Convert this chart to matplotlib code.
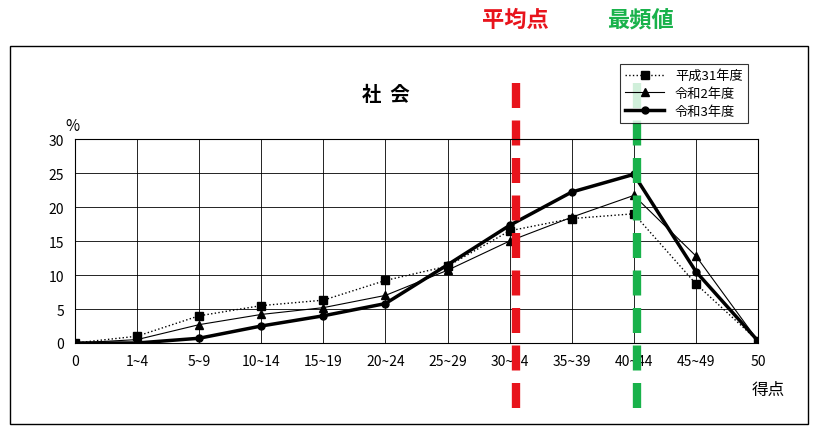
import matplotlib.pyplot as plt
from matplotlib.patches import Rectangle
from matplotlib.lines import Line2D

plt.rcParams['font.family'] = ['Noto Sans CJK JP', 'DejaVu Sans']

categories = ['0', '1~4', '5~9', '10~14', '15~19', '20~24', '25~29',
              '30~34', '35~39', '40~44', '45~49', '50']
h31 = [0, 1.0, 4.0, 5.5, 6.3, 9.2, 11.3, 16.5, 18.3, 19.0, 8.7, 0.3]
r2 = [0, 0.5, 2.7, 4.2, 5.2, 7.0, 10.7, 15.0, 18.5, 21.7, 12.8, 0.3]
r3 = [0, 0, 0.7, 2.5, 4.0, 5.8, 11.5, 17.3, 22.2, 24.8, 10.5, 0.3]
mean_pos = 7.1
mode_pos = 9.05

fig = plt.figure(figsize=(8.24, 4.35), dpi=100)
fig.patches.append(Rectangle((10 / 824, 1 - 425 / 435), 798 / 824, 378 / 435,
                             transform=fig.transFigure, fill=False,
                             edgecolor='black', linewidth=1))
ax = fig.add_axes([75 / 824, 1 - 344 / 435, 683 / 824, 204 / 435])
x = list(range(len(categories)))

ax.plot(x, h31, color='black', linestyle=':', linewidth=1, marker='s',
        markersize=6, label='平成31年度')
ax.plot(x, r2, color='black', linestyle='-', linewidth=0.8, marker='^',
        markersize=6, label='令和2年度')
ax.plot(x, r3, color='black', linestyle='-', linewidth=2.5, marker='o',
        markersize=5, label='令和3年度')

ax.set_xlim(0, 11)
ax.set_ylim(0, 30)
ax.set_xticks(x)
ax.set_xticklabels(categories, fontsize=10)
ax.set_yticks(range(0, 31, 5))
ax.tick_params(labelsize=10, length=0, pad=8)
ax.grid(True, color='black', linewidth=0.6)
for s in ax.spines.values():
    s.set_linewidth(0.8)

# mean / mode dashed lines (extend outside axes)
for pos, col in [(mean_pos, '#e8141c'), (mode_pos, '#19b24b')]:
    ax.add_line(Line2D([pos, pos], [-9.5, 38.5], color=col, linewidth=6,
                       linestyle=(0, (3, 1.5)), clip_on=False))

ax.text(-0.15, 31.3, '%', fontsize=11)
ax.text(5.0, 35.8, '社  会', fontsize=14, fontweight='bold', ha='center')
ax.text(10.9, -7.5, '得点', fontsize=12)
fig.text(515 / 824, 1 - 20 / 435, '平均点', color='#e8141c', fontsize=16,
         fontweight='bold', ha='center', va='center')
fig.text(640 / 824, 1 - 20 / 435, '最頻値', color='#19b24b', fontsize=16,
         fontweight='bold', ha='center', va='center')

leg = ax.legend(loc='upper right', bbox_to_anchor=(0.995, 1.4), fontsize=9.5,
                frameon=True, fancybox=False, edgecolor='black',
                handlelength=3, borderpad=0.4, labelspacing=0.35)
leg.get_frame().set_linewidth(0.8)

fig.savefig('out.png', dpi=100)
